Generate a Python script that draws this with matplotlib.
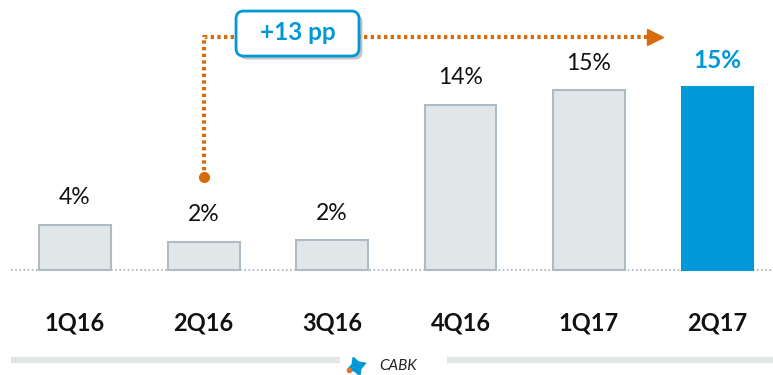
import matplotlib
matplotlib.use("Agg")
import matplotlib.pyplot as plt
import matplotlib.patheffects as pe
from matplotlib.patches import FancyBboxPatch

plt.rcParams['font.family'] = ['Lato', 'DejaVu Sans']

quarters = ['1Q16', '2Q16', '3Q16', '4Q16', '1Q17', '2Q17']
share = [3.75, 2.35, 2.5, 13.75, 15.0, 15.25]

grey_fill = '#E1E6E9'
grey_edge = '#AEBBC2'
blue = '#0099D8'
orange = '#D86B0C'

fig = plt.figure(figsize=(7.73, 3.75), dpi=100)
ax = fig.add_axes([0, 0, 1, 1])
ax.set_xlim(-0.584, 5.432)
ax.set_ylim(-8.75, 22.5)
ax.axis('off')

x = list(range(len(quarters)))
colors = [grey_fill] * 5 + [blue]
edges = [grey_edge] * 5 + [blue]
ax.bar(x, share, width=0.56, color=colors, edgecolor=edges, linewidth=1.5, zorder=3)

# dotted baseline
ax.plot([-0.5, 5.5], [0, 0], ls=(0, (1, 1.5)), color='#A8B0B5', lw=1.2, zorder=2)

for i, v in enumerate(share):
    last = i == len(share) - 1
    ax.text(i, v + 2.25, f'{v:.0f}%', ha='center', va='center',
            fontsize=17.5 if last else 16.5, fontweight='bold' if last else 'normal',
            color=blue if last else '#111111')
    ax.text(i, -4.4, quarters[i], ha='center', va='center', fontsize=17,
            fontweight='bold', color='#111111')

# change between 2Q16 and 2Q17
delta = round(share[5]) - round(share[1])
y_top = 19.4
ax.plot([1, 1, 4.5], [7.75, y_top, y_top], ls=(0, (0.8, 0.8)), color=orange,
        lw=3, zorder=4, dash_capstyle='butt')
ax.plot(1, 7.75, 'o', color=orange, ms=7, zorder=5)
ax.plot(4.51, y_top, marker='>', color=orange, ms=12, zorder=5, mec=orange)

box = FancyBboxPatch((1.253, 17.83), 0.957, 3.75,
                     boxstyle='round,pad=0,rounding_size=0.06',
                     mutation_aspect=10.7, fc='white', ec=blue, lw=2, zorder=6)
box.set_path_effects([
    pe.SimplePatchShadow(offset=(2.5, -2.5), shadow_rgbFace='#888888', alpha=0.5),
    pe.Normal()])
ax.add_patch(box)
ax.text(1.73, 19.75, f'+{delta} pp', ha='center', va='center', fontsize=17.5,
        fontweight='bold', color=blue, zorder=7)

# footer bars and label
ax.plot([-0.5, 2.06], [-7.5, -7.5], color='#E1E6E9', lw=4.5, solid_capstyle='butt')
ax.plot([2.895, 5.45], [-7.5, -7.5], color='#E1E6E9', lw=4.5, solid_capstyle='butt')
ax.plot(2.19, -8.0, marker=(4, 1, 20), color=blue, ms=14, mec=blue)
ax.plot(2.13, -8.35, 'o', color='#E8702A', ms=3)
ax.text(2.37, -8.0, 'CABK', ha='left', va='center', fontsize=11,
        style='italic', color='#222222')

fig.savefig('out.png', dpi=100)
